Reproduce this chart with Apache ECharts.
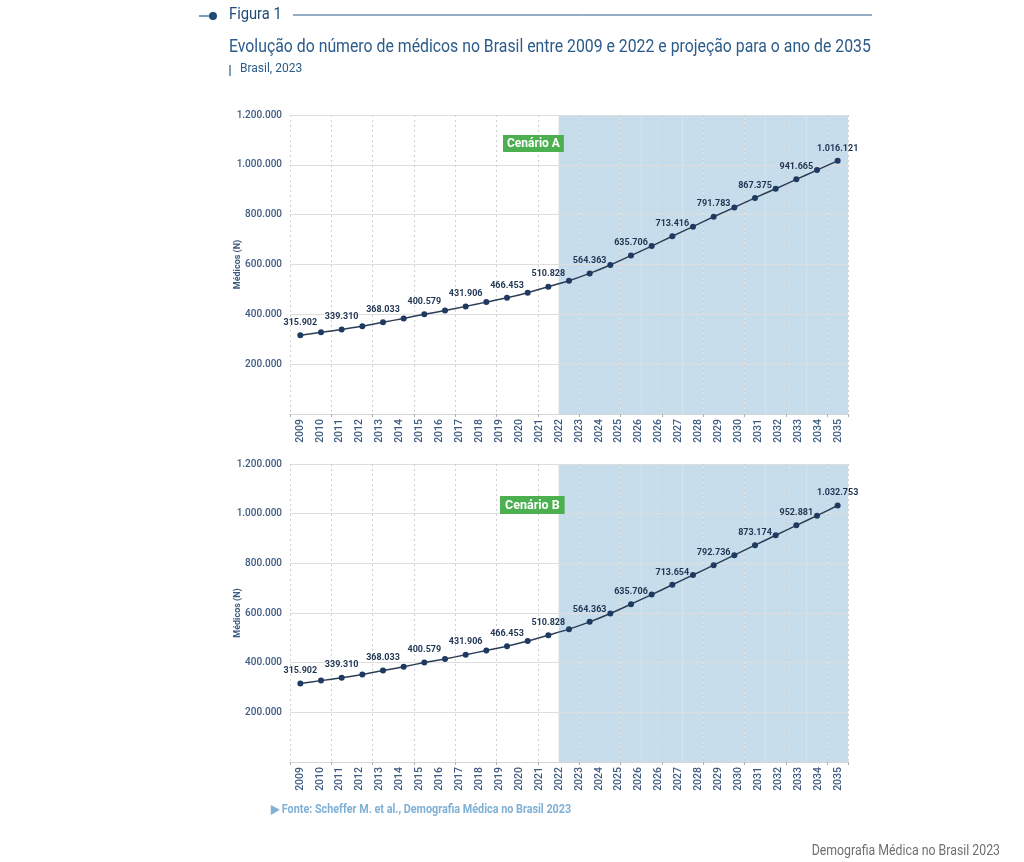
<!DOCTYPE html>
<html>
<head>
<meta charset="utf-8">
<script src="https://cdn.jsdelivr.net/npm/echarts@6/dist/echarts.min.js"></script>
<style>
  html, body { margin: 0; padding: 0; background: #ffffff; }
  #chart { width: 1024px; height: 862px; }
</style>
</head>
<body>
<div id="chart"></div>
<script>
// ---- data ----
const years = ['2009','2010','2011','2012','2013','2014','2015','2016','2017','2018','2019','2020','2021','2022',
  '2023','2024','2025','2026','2027','2028','2029','2030','2031','2032','2033','2034','2035'];
// tick labels exactly as printed under the axis (note the repeated 2026)
const tickLabels = ['2009','2010','2011','2012','2013','2014','2015','2016','2017','2018','2019','2020','2021','2022',
  '2023','2024','2025','2026','2026','2027','2028','2029','2030','2031','2032','2033','2034','2035'];
const medicosA = [315902, 327700, 339310, 352500, 368033, 383500, 400579, 415000, 431906, 449000, 466453, 487000,
  510828, 535000, 564363, 598000, 635706, 674000, 713416, 752000, 791783, 829000, 867375, 904000, 941665, 979000, 1016121];
const medicosB = [315902, 327700, 339310, 352500, 368033, 383500, 400579, 415000, 431906, 449000, 466453, 487000,
  510828, 535000, 564363, 598000, 635706, 674000, 713654, 753000, 792736, 833000, 873174, 913000, 952881, 992000, 1032753];
const yMax = 1200000;
const yInterval = 200000;
const projectionStart = '2022';

const FONT = "Roboto, 'Noto Sans', sans-serif";
const fmt = v => String(v).replace(/\B(?=(\d{3})+(?!\d))/g, '.');
const shade = years.map(y => (y >= projectionStart ? yMax : '-'));

const gridLeft = 290, gridRight = 176;
const grids = [
  { left: gridLeft, right: gridRight, top: 115, height: 299 },
  { left: gridLeft, right: gridRight, top: 464, height: 298 }
];

function xAxes(gi) {
  return [
    {
      type: 'category', gridIndex: gi, data: years, boundaryGap: true, position: 'bottom',
      axisLine: { show: true, lineStyle: { color: '#d6d6d6', width: 1 } },
      axisTick: { show: true, length: 3, lineStyle: { color: '#b0b0b0' } },
      axisLabel: { show: false },
      splitLine: { show: true, lineStyle: { color: '#cfcfcf', type: [2, 3], width: 1 } }
    },
    {
      type: 'category', gridIndex: gi, data: tickLabels.map((_, i) => String(i)), boundaryGap: true, position: 'bottom',
      axisLine: { show: false }, axisTick: { show: false }, splitLine: { show: false },
      axisLabel: {
        show: true, interval: 0, rotate: 90, margin: 5,
        fontFamily: FONT, fontSize: 10.5, fontWeight: 500, color: '#3d5a80',
        formatter: (v, i) => tickLabels[i]
      }
    }
  ];
}

function yAxis(gi) {
  return {
    type: 'value', gridIndex: gi, min: 0, max: yMax, interval: yInterval,
    name: 'Médicos (N)', nameLocation: 'middle', nameGap: 48, nameRotate: 90, nameMoveOverlap: false,
    nameTextStyle: { fontFamily: FONT, fontSize: 9, fontWeight: 'bold', color: '#3d5a80' },
    axisLine: { show: false }, axisTick: { show: false },
    axisLabel: {
      fontFamily: FONT, fontSize: 10, fontWeight: 500, color: '#3d5a80', margin: 8,
      formatter: v => (v === 0 ? '' : fmt(v))
    },
    splitLine: { show: true, lineStyle: { color: '#dedede', width: 1 } }
  };
}

function lineSeries(data, xi, yi) {
  return {
    type: 'line', data: data, xAxisIndex: xi, yAxisIndex: yi, z: 3,
    smooth: 0.2, symbol: 'circle', symbolSize: 6,
    lineStyle: { color: '#2c3e55', width: 1.5 },
    itemStyle: { color: '#1f3a60' },
    label: {
      show: true, position: 'top', distance: 5,
      fontFamily: FONT, fontSize: 9, fontWeight: 'bold', color: '#1f3553',
      formatter: p => (p.dataIndex % 2 === 0 ? fmt(p.value) : '')
    }
  };
}

function shadeSeries(xi, yi) {
  return {
    type: 'bar', data: shade, xAxisIndex: xi, yAxisIndex: yi, z: -1, silent: true,
    barWidth: '100%', barCategoryGap: '0%',
    itemStyle: { color: '#c7ddeb' }
  };
}

const option = {
  backgroundColor: '#ffffff',
  animation: false,
  grid: grids,
  xAxis: [...xAxes(0), ...xAxes(1)],
  yAxis: [yAxis(0), yAxis(1)],
  title: [
    { text: 'Cenário A', left: 503, top: 135, backgroundColor: '#4caf50', padding: [3, 4, 2, 4],
      textStyle: { color: '#ffffff', fontFamily: FONT, fontSize: 12, fontWeight: 'bold' } },
    { text: 'Cenário B', left: 500, top: 496, backgroundColor: '#4caf50', padding: [3, 5, 2, 5],
      textStyle: { color: '#ffffff', fontFamily: FONT, fontSize: 12.5, fontWeight: 'bold' } }
  ],
  graphic: [
    { type: 'line', shape: { x1: 199, y1: 16, x2: 212, y2: 16 }, style: { stroke: '#2b5b8a', lineWidth: 1.2 } },
    { type: 'circle', shape: { cx: 213, cy: 16, r: 4 }, style: { fill: '#1f4a78' } },
    { type: 'text', x: 229, y: 7, scaleX: 0.92, style: { text: 'Figura 1', font: "16px " + FONT, fill: '#1f4a78', verticalAlign: 'top' } },
    { type: 'line', shape: { x1: 293, y1: 15, x2: 872, y2: 15 }, style: { stroke: '#2b5b8a', lineWidth: 1 } },
    { type: 'text', x: 229, y: 38, scaleX: 0.879, style: { text: 'Evolução do número de médicos no Brasil entre 2009 e 2022 e projeção para o ano de 2035', font: "18px " + FONT, fill: '#2b5b8a', verticalAlign: 'top' } },
    { type: 'line', shape: { x1: 230, y1: 65, x2: 230, y2: 76 }, style: { stroke: '#2b5b8a', lineWidth: 1.2 } },
    { type: 'text', x: 240, y: 63, style: { text: 'Brasil, 2023', font: "12px " + FONT, fill: '#2b5b8a', verticalAlign: 'top' } },
    { type: 'text', x: 271, y: 804, scaleX: 0.9, style: { text: '▶ Fonte: Scheffer M. et al., Demografia Médica no Brasil 2023', font: "bold 12px " + FONT, fill: '#7fb0d6', verticalAlign: 'top' } },
    { type: 'text', x: 1000, y: 844, scaleX: 0.88, style: { text: 'Demografia Médica no Brasil 2023', font: "14px " + FONT, fill: '#6f6f6f', align: 'right', verticalAlign: 'top' } }
  ],
  series: [
    shadeSeries(0, 0),
    lineSeries(medicosA, 0, 0),
    shadeSeries(2, 1),
    lineSeries(medicosB, 2, 1)
  ]
};

const chart = echarts.init(document.getElementById('chart'), null, { renderer: 'canvas' });
chart.setOption(option);
</script>
</body>
</html>
